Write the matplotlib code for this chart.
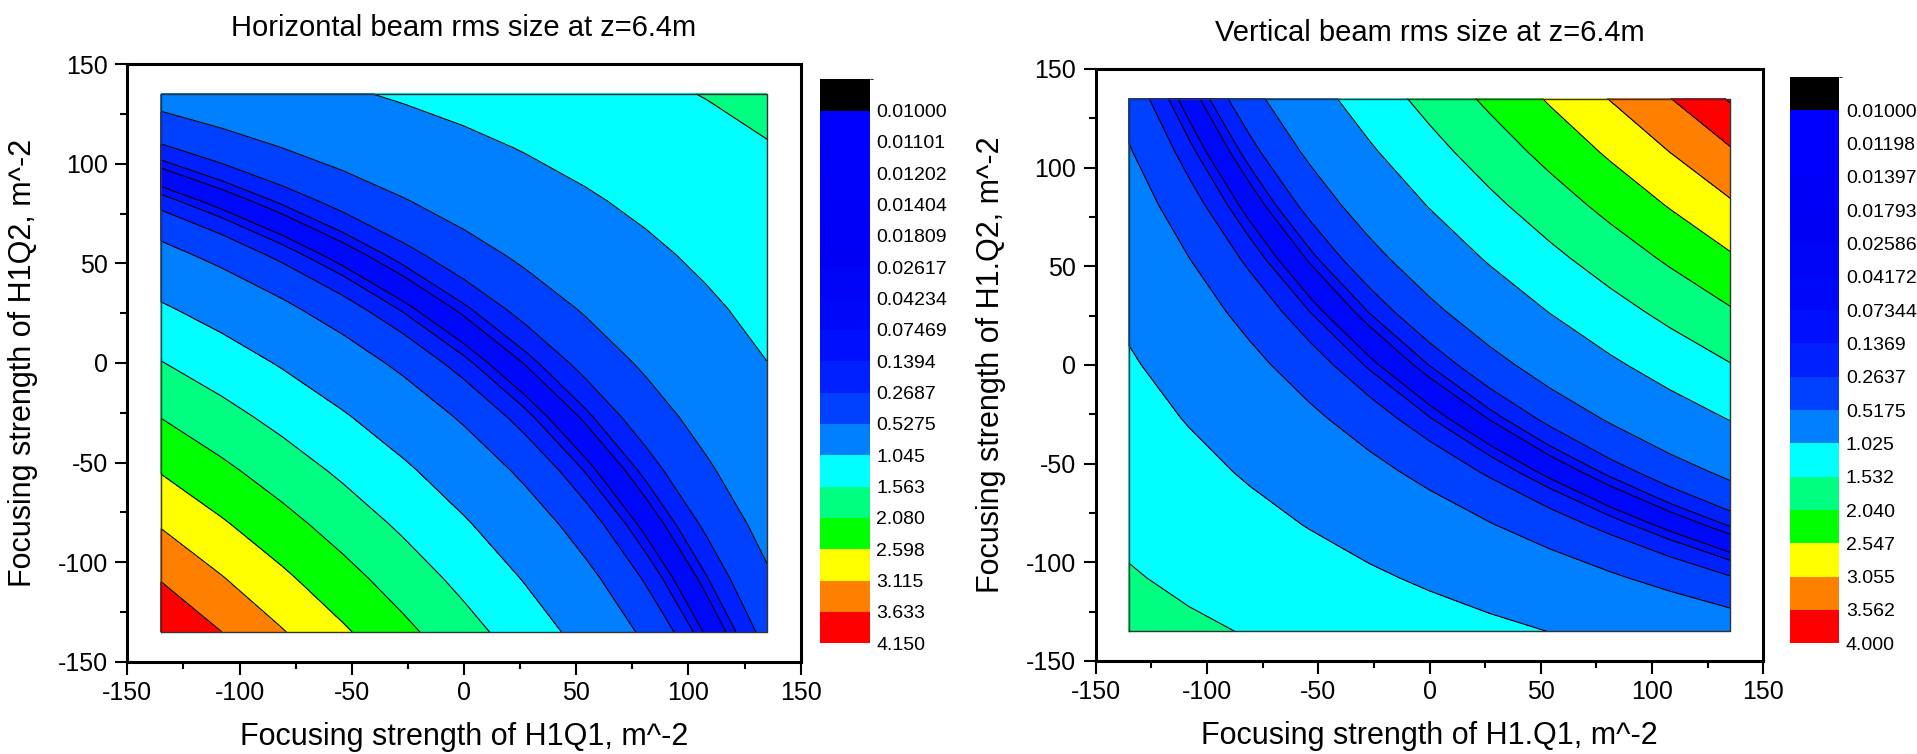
import numpy as np
import matplotlib
matplotlib.use("Agg")
import matplotlib.pyplot as plt
from matplotlib.colors import ListedColormap, BoundaryNorm
from matplotlib.cm import ScalarMappable

plt.rcParams['font.family'] = ['Liberation Sans', 'DejaVu Sans']
plt.rcParams['axes.unicode_minus'] = False

# quad strengths (grid nodes, m^-2), same for both axes
kk = [-135, -108, -81, -54, -27, 0, 27, 54, 81, 108, 135]

# rms size, signed: minus on the lower-left side of the valley
# rows: H1Q2 from -135 up, columns: H1Q1 from -135 to the right
h_grid = [
    [-4.135, -3.636, -3.148, -2.670, -2.204, -1.749, -1.307, -0.876, -0.457, -0.052, 0.341],
    [-3.599, -3.143, -2.696, -2.260, -1.834, -1.419, -1.014, -0.621, -0.240, 0.130, 0.489],
    [-3.075, -2.661, -2.256, -1.860, -1.473, -1.096, -0.730, -0.373, -0.027, 0.308, 0.632],
    [-2.565, -2.192, -1.827, -1.470, -1.122, -0.782, -0.452, -0.131, 0.180, 0.481, 0.772],
    [-2.067, -1.734, -1.408, -1.090, -0.779, -0.476, -0.182, 0.104, 0.381, 0.649, 0.908],
    [-1.581, -1.288, -1.000, -0.719, -0.445, -0.178, 0.082, 0.334, 0.578, 0.814, 1.041],
    [-1.108, -0.853, -0.603, -0.358, -0.120, 0.112, 0.338, 0.557, 0.769, 0.974, 1.171],
    [-0.647, -0.429, -0.216, -0.007, 0.197, 0.395, 0.588, 0.775, 0.956, 1.130, 1.298],
    [-0.198, -0.017, 0.161, 0.335, 0.505, 0.671, 0.832, 0.988, 1.138, 1.283, 1.423],
    [0.239, 0.385, 0.528, 0.669, 0.806, 0.939, 1.069, 1.195, 1.316, 1.432, 1.544],
    [0.664, 0.776, 0.885, 0.993, 1.098, 1.201, 1.300, 1.396, 1.489, 1.578, 1.664],
]

v_grid = [
    [-1.689, -1.601, -1.510, -1.417, -1.321, -1.223, -1.123, -1.020, -0.916, -0.809, -0.701],
    [-1.566, -1.452, -1.335, -1.214, -1.089, -0.962, -0.831, -0.698, -0.561, -0.422, -0.281],
    [-1.444, -1.303, -1.157, -1.007, -0.853, -0.695, -0.533, -0.368, -0.199, -0.026, 0.150],
    [-1.322, -1.152, -0.977, -0.797, -0.612, -0.423, -0.229, -0.030, 0.173, 0.380, 0.592],
    [-1.198, -0.998, -0.793, -0.583, -0.366, -0.144, 0.083, 0.316, 0.554, 0.797, 1.046],
    [-1.072, -0.842, -0.606, -0.363, -0.114, 0.141, 0.403, 0.671, 0.945, 1.225, 1.511],
    [-0.944, -0.683, -0.415, -0.139, 0.144, 0.434, 0.732, 1.036, 1.347, 1.665, 1.990],
    [-0.813, -0.520, -0.218, 0.092, 0.410, 0.736, 1.069, 1.411, 1.760, 2.117, 2.481],
    [-0.679, -0.352, -0.016, 0.329, 0.683, 1.046, 1.417, 1.797, 2.185, 2.582, 2.987],
    [-0.540, -0.179, 0.192, 0.573, 0.964, 1.365, 1.774, 2.194, 2.622, 3.060, 3.507],
    [-0.397, -0.000, 0.407, 0.826, 1.254, 1.693, 2.143, 2.603, 3.072, 3.552, 4.042],
]

h_labels = ["0.01000", "0.01101", "0.01202", "0.01404", "0.01809", "0.02617", "0.04234", "0.07469",
            "0.1394", "0.2687", "0.5275", "1.045", "1.563", "2.080", "2.598", "3.115", "3.633", "4.150"]
v_labels = ["0.01000", "0.01198", "0.01397", "0.01793", "0.02586", "0.04172", "0.07344", "0.1369",
            "0.2637", "0.5175", "1.025", "1.532", "2.040", "2.547", "3.055", "3.562", "4.000"]

h_colors = ['#0000ff', '#0000fd', '#0000fb', '#0000f9', '#0000f7', '#0004f8', '#0008fa', '#0010ff',
            '#0020ff', '#0040ff', '#0080ff', '#00ffff', '#00ff80', '#00ff00', '#ffff00', '#ff8000', '#ff0000']
v_colors = ['#0000ff', '#0000fc', '#0000f9', '#0000f7', '#0004f8', '#0008fa', '#0010ff',
            '#0020ff', '#0040ff', '#0080ff', '#00ffff', '#00ff80', '#00ff00', '#ffff00', '#ff8000', '#ff0000']


def draw(ax, cax, grid, labels, colors, title, xlabel, ylabel):
    levels = [float(s) for s in labels]
    pos = [l for l in levels if l > 0.07]
    k0 = levels.index(pos[0]) - 1
    band = colors[k0 + 1:k0 + len(pos)]
    # mirror the levels so both sides of the valley get the same bands
    lev = [-99] + [-p for p in pos[::-1]] + pos + [99]
    cols = [colors[-1]] + band[::-1] + [colors[k0]] + band + [colors[-1]]
    ax.contourf(kk, kk, grid, levels=lev, colors=cols)
    ax.contour(kk, kk, grid, levels=[-p for p in pos[::-1]] + pos, colors='k', linewidths=0.8,
               negative_linestyles='solid')
    ax.plot([kk[0], kk[-1], kk[-1], kk[0], kk[0]], [kk[0], kk[0], kk[-1], kk[-1], kk[0]],
            color='#333333', lw=1)

    ax.set_xlim(-150, 150)
    ax.set_ylim(-150, 150)
    ax.set_xticks(np.arange(-150, 151, 50))
    ax.set_yticks(np.arange(-150, 151, 50))
    ax.set_xticks(np.arange(-125, 150, 50), minor=True)
    ax.set_yticks(np.arange(-125, 150, 50), minor=True)
    ax.tick_params(which='both', direction='out', width=1.5, labelsize=18, top=False, right=False)
    ax.tick_params(which='major', length=9, pad=5)
    ax.tick_params(which='minor', length=5)
    for s in ax.spines.values():
        s.set_linewidth(2.2)
    ax.set_title(title, fontsize=21, pad=20)
    ax.set_xlabel(xlabel, fontsize=22, labelpad=12)
    ax.set_ylabel(ylabel, fontsize=22, labelpad=14)

    # Origin style legend: equal blocks, labels on the block edges, black on top
    n = len(labels)
    cb_cols = (['#000000'] + colors)[::-1]
    sm = ScalarMappable(norm=BoundaryNorm(np.arange(n + 1), n), cmap=ListedColormap(cb_cols))
    cb = plt.colorbar(sm, cax=cax, ticks=np.arange(n))
    cb.ax.set_yticklabels(labels[::-1])
    cb.ax.tick_params(length=0, labelsize=14, pad=5)
    cb.outline.set_visible(False)


fig = plt.figure(figsize=(19.17, 7.54), dpi=100)
ax1 = fig.add_axes([0.0664, 0.1222, 0.3513, 0.7928])
cax1 = fig.add_axes([0.428, 0.1468, 0.0256, 0.748])
ax2 = fig.add_axes([0.5715, 0.1235, 0.3484, 0.785])
cax2 = fig.add_axes([0.9337, 0.1468, 0.0256, 0.7512])

draw(ax1, cax1, h_grid, h_labels, h_colors, "Horizontal beam rms size at z=6.4m",
     "Focusing strength of H1Q1, m^-2", "Focusing strength of H1Q2, m^-2")
draw(ax2, cax2, v_grid, v_labels, v_colors, "Vertical beam rms size at z=6.4m",
     "Focusing strength of H1.Q1, m^-2", "Focusing strength of H1.Q2, m^-2")

fig.savefig("out.png", dpi=100)
